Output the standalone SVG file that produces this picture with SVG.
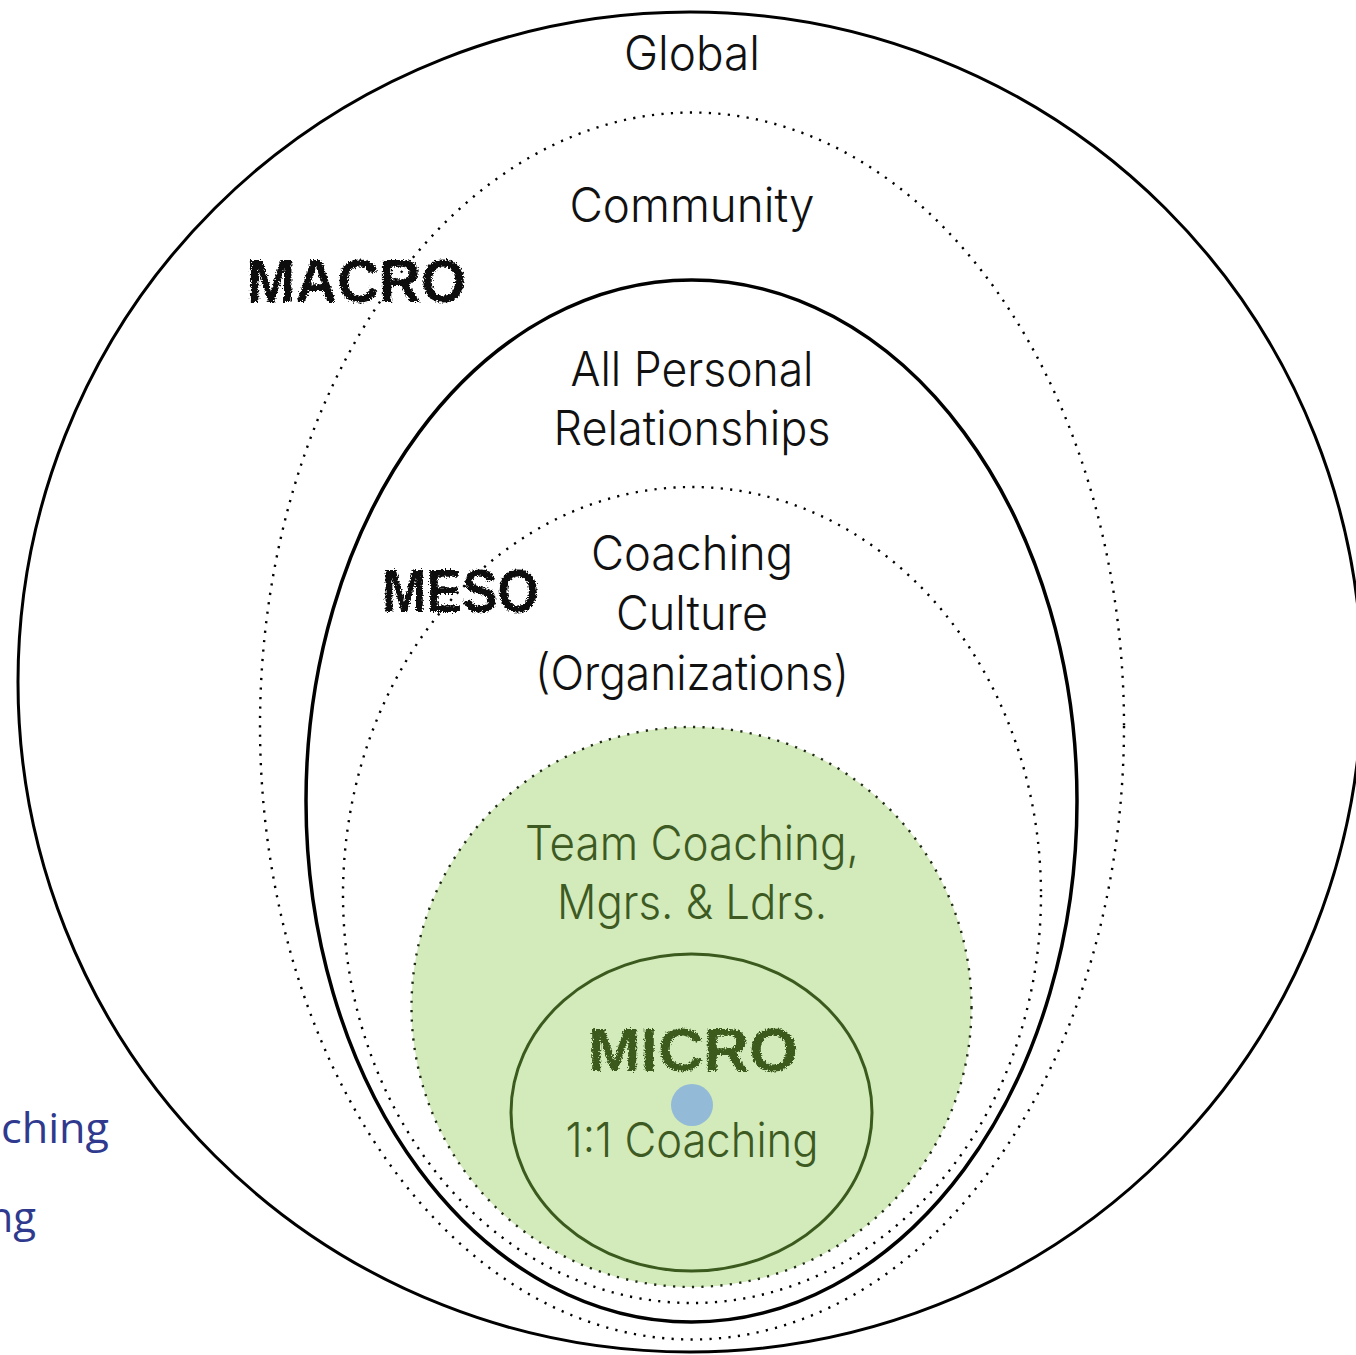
<svg xmlns="http://www.w3.org/2000/svg" width="1356" height="1355" viewBox="0 0 1356 1355">
<defs>
<style>
.solid{fill:none;stroke:#000;stroke-width:3}
.dot{fill:none;stroke:#000;stroke-width:2.4;stroke-dasharray:2.2 7.3}
.lbl{font-family:Inter,"Liberation Sans",sans-serif;font-weight:300;font-size:48px;fill:#111;text-anchor:middle}
.grn{fill:#3d5a22}
.chalk{font-family:"Liberation Sans","DejaVu Sans",sans-serif;font-weight:bold;font-size:62px;fill:#0a0a0a;filter:url(#rough)}
.side{font-family:"Open Sans","Noto Sans",sans-serif;font-size:42px;fill:#2f3a8e}
</style>
<filter id="rough" x="-10%" y="-20%" width="120%" height="140%">
<feTurbulence type="fractalNoise" baseFrequency="0.6" numOctaves="2" seed="3" result="n"/>
<feDisplacementMap in="SourceGraphic" in2="n" scale="6" xChannelSelector="R" yChannelSelector="G"/>
</filter>
</defs>
<rect width="1356" height="1355" fill="#fff"/>
<g id="side-text">
<text class="side" x="1" y="1143" textLength="108" lengthAdjust="spacingAndGlyphs">ching</text>
<text class="side" x="36" y="1232" text-anchor="end">ng</text>
</g>
<g id="global">
<ellipse class="solid" cx="690" cy="682" rx="672" ry="670"/>
<text class="lbl" x="692" y="70" textLength="136" lengthAdjust="spacingAndGlyphs">Global</text>
</g>
<g id="community">
<ellipse class="dot" cx="692" cy="726" rx="432" ry="613.5"/>
<text class="lbl" x="692" y="222" textLength="245" lengthAdjust="spacingAndGlyphs">Community</text>
</g>
<g id="macro">
<text class="chalk" x="247" y="302" textLength="219" lengthAdjust="spacingAndGlyphs">MACRO</text>
</g>
<g id="personal-relationships">
<ellipse class="solid" cx="691.5" cy="801" rx="385.5" ry="521" style="stroke-width:3.5"/>
<text class="lbl" x="692" y="386" textLength="243" lengthAdjust="spacingAndGlyphs">All Personal</text>
<text class="lbl" x="692" y="445" textLength="277" lengthAdjust="spacingAndGlyphs">Relationships</text>
</g>
<g id="coaching-culture">
<ellipse class="dot" cx="692" cy="895" rx="349" ry="408"/>
<text class="lbl" x="692" y="570" textLength="202" lengthAdjust="spacingAndGlyphs">Coaching</text>
<text class="lbl" x="692" y="630" textLength="152" lengthAdjust="spacingAndGlyphs">Culture</text>
<text class="lbl" x="692" y="690" textLength="314" lengthAdjust="spacingAndGlyphs">(Organizations)</text>
</g>
<g id="meso">
<text class="chalk" x="382" y="612" textLength="157" lengthAdjust="spacingAndGlyphs">MESO</text>
</g>
<g id="team-coaching">
<circle cx="691.5" cy="1007" r="280" fill="#d3eabb"/>
<circle class="dot" cx="691.5" cy="1007" r="280" style="stroke:#1e2a14"/>
<text class="lbl grn" x="692" y="860" textLength="334" lengthAdjust="spacingAndGlyphs">Team Coaching,</text>
<text class="lbl grn" x="692" y="919" textLength="270" lengthAdjust="spacingAndGlyphs">Mgrs. &amp; Ldrs.</text>
</g>
<g id="micro">
<ellipse cx="691.5" cy="1112.5" rx="180.5" ry="158.5" fill="none" stroke="#3b5a1e" stroke-width="3"/>
<text class="chalk" x="588" y="1071" textLength="210" lengthAdjust="spacingAndGlyphs" style="fill:#3b5a1e">MICRO</text>
<circle cx="692" cy="1105" r="21" fill="#93bad6"/>
<text class="lbl grn" x="692" y="1157" textLength="253" lengthAdjust="spacingAndGlyphs">1:1 Coaching</text>
</g>
<g id="connectors"/>
</svg>
